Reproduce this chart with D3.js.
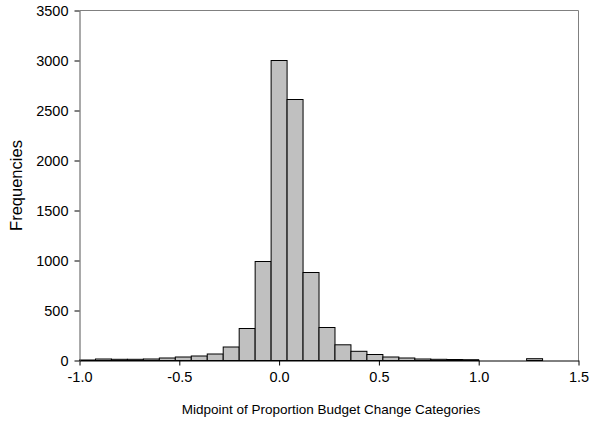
<!DOCTYPE html>
<html>
<head>
<meta charset="utf-8">
<script src="https://cdn.jsdelivr.net/npm/d3@7"></script>
<style>
  html, body { margin: 0; padding: 0; background: #fff; }
  svg text { font-family: "Liberation Sans", Arial, sans-serif; }
</style>
</head>
<body>
<svg id="chart" width="590" height="421"></svg>
<script>
// Bin midpoints (bin width 0.08) and frequencies
const midpoints = [-0.96, -0.88, -0.80, -0.72, -0.64, -0.56, -0.48, -0.40, -0.32, -0.24, -0.16, -0.08,
                   0.00, 0.08, 0.16, 0.24, 0.32, 0.40, 0.48, 0.56, 0.64, 0.72, 0.80, 0.88, 0.96,
                   1.04, 1.12, 1.20, 1.28];
const frequencies = [5, 15, 12, 12, 15, 25, 35, 45, 65, 135, 320, 990,
                     3000, 2610, 880, 330, 157, 92, 60, 35, 25, 15, 12, 10, 8,
                     0, 0, 0, 18];
const binWidth = 0.08;
const xTicks = [-1.0, -0.5, 0.0, 0.5, 1.0, 1.5];
const yTicks = [0, 500, 1000, 1500, 2000, 2500, 3000, 3500];
const xTitle = "Midpoint of Proportion Budget Change Categories";
const yTitle = "Frequencies";

const svg = d3.select("#chart");
const pLeft = 79.5, pRight = 578.5, pTop = 10.5, pBottom = 360.5;
const tickFont = 14.5;

const x = d3.scaleLinear().domain([-1.0, 1.5]).range([pLeft, pRight]);
const y = d3.scaleLinear().domain([0, 3500]).range([pBottom, pTop]);

// plot frame (top and right in gray)
svg.append("line").attr("x1", pLeft).attr("x2", pRight).attr("y1", pTop).attr("y2", pTop)
  .attr("stroke", "#808080").attr("stroke-width", 1);
svg.append("line").attr("x1", pRight).attr("x2", pRight).attr("y1", pTop).attr("y2", pBottom)
  .attr("stroke", "#808080").attr("stroke-width", 1);

const data = midpoints.map((m, i) => ({ m, v: frequencies[i] })).filter(d => d.v > 0);

svg.append("g").selectAll("rect").data(data).enter().append("rect")
  .attr("x", d => x(d.m - binWidth / 2))
  .attr("width", d => x(d.m + binWidth / 2) - x(d.m - binWidth / 2))
  .attr("y", d => y(d.v))
  .attr("height", d => y(0) - y(d.v))
  .attr("fill", "#c0c0c0")
  .attr("stroke", "#000")
  .attr("stroke-width", 1);

// axes
const fmtX = d => d3.format(".1f")(d).replace("\u2212", "-");
const xAxis = d3.axisBottom(x).tickValues(xTicks).tickFormat(fmtX).tickSizeInner(5).tickSizeOuter(0).tickPadding(6);
const gx = svg.append("g").attr("transform", `translate(0,${pBottom})`).call(xAxis);
gx.select(".domain").attr("stroke", "#000");
gx.selectAll(".tick line").attr("stroke", "#000");
gx.selectAll("text").attr("font-size", tickFont).attr("fill", "#000")
  .attr("font-family", "Liberation Sans, Arial, sans-serif");

const yAxis = d3.axisLeft(y).tickValues(yTicks).tickFormat(d3.format("d")).tickSizeInner(5).tickSizeOuter(0).tickPadding(6);
const gy = svg.append("g").attr("transform", `translate(${pLeft},0)`).call(yAxis);
gy.select(".domain").attr("stroke", "#555");
gy.selectAll(".tick line").attr("stroke", "#000");
gy.selectAll("text").attr("font-size", tickFont).attr("fill", "#000")
  .attr("font-family", "Liberation Sans, Arial, sans-serif");

// titles
svg.append("text").attr("x", 331).attr("y", 414)
  .attr("text-anchor", "middle").attr("font-size", 13.5).attr("fill", "#000").text(xTitle);
svg.append("text").attr("transform", `translate(22,${(pTop + pBottom) / 2}) rotate(-90)`)
  .attr("text-anchor", "middle").attr("font-size", 16.5).attr("fill", "#000").text(yTitle);
</script>
</body>
</html>
